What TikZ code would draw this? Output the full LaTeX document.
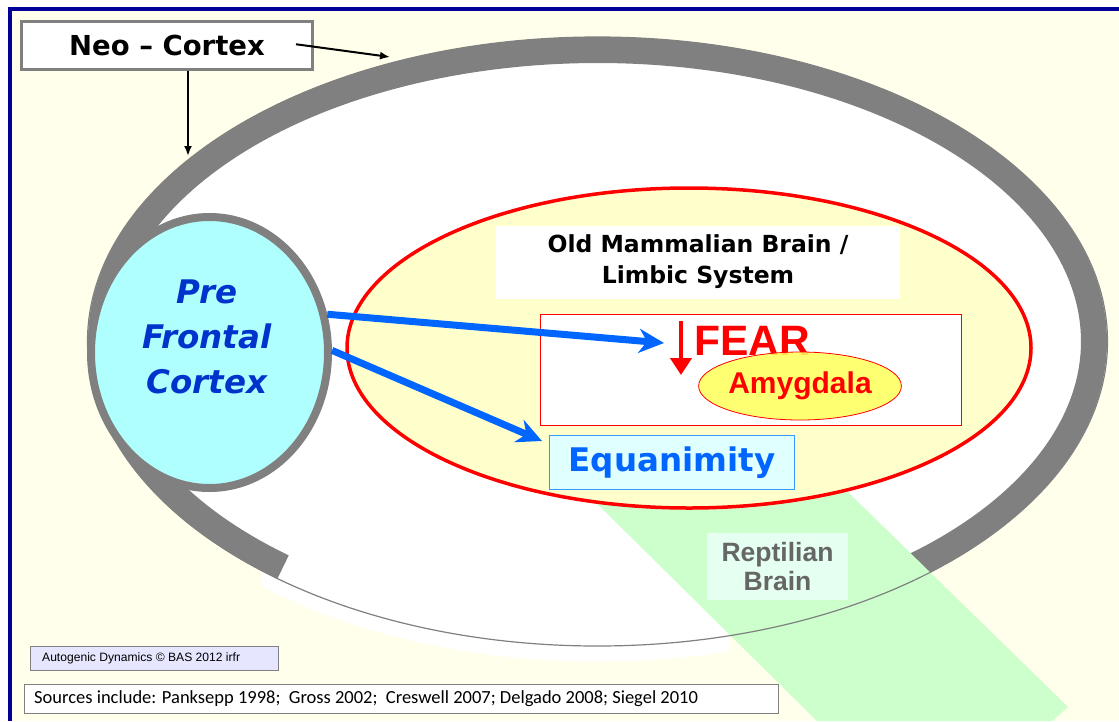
\documentclass[tikz,border=0pt]{standalone}
\usepackage{fontspec}
\setmainfont{DejaVu Sans}
\newfontfamily\verdfont{DejaVu Sans}
\newfontfamily\arialfont{Liberation Sans}
\newfontfamily\calfont{Carlito}
\usetikzlibrary{shapes.geometric,arrows.meta,positioning}
\definecolor{bgyellow}{RGB}{255,255,235}
\definecolor{frameblue}{RGB}{0,0,153}
\definecolor{ringgray}{RGB}{128,128,128}
\definecolor{limbicyellow}{RGB}{255,255,204}
\definecolor{reptgreen}{RGB}{204,255,204}
\definecolor{pfccyan}{RGB}{176,255,255}
\definecolor{pfcblue}{RGB}{0,51,204}
\definecolor{arrowblue}{RGB}{0,102,255}
\definecolor{equifill}{RGB}{224,255,255}
\definecolor{equiline}{RGB}{51,153,255}
\definecolor{amyyellow}{RGB}{255,255,90}
\definecolor{reptbox}{RGB}{229,255,240}
\definecolor{repttext}{RGB}{102,102,102}
\definecolor{footlilac}{RGB}{230,230,255}

\begin{document}
\begin{tikzpicture}[x=1pt,y=-1pt,
  ring/.style={draw=ringgray,line width=26},
  graybox/.style={draw=ringgray,line width=3,fill=white,inner sep=0pt},
  footbox/.style={draw=ringgray,line width=1,anchor=west,inner sep=0pt},
  bluearrow/.style={draw=arrowblue,line width=7,-{Stealth[length=25pt,width=24pt,inset=8pt]}},
  neoarrow/.style={draw=black,line width=2,-{Latex[length=10pt,width=8pt]}},
  plain/.style={inner sep=0pt,align=center}]
\useasboundingbox (0,0) rectangle (1119,721);
\fill[white] (0,0) rectangle (1119,721);
\fill[bgyellow] (10,9) rectangle (1119,721);
\draw[frameblue,line width=4] (10,721) -- (10,9) -- (1119,9);

% brain outline
\begin{scope}
\clip (262,540) rectangle (729,690);
\fill[white] (597.5,357) ellipse[x radius=510,y radius=304.5];
\end{scope}
\fill[white] (597.5,341.5) ellipse[x radius=510,y radius=304.5];
\draw[ring] (597.5,341.5) ++(129.3:496.5 and 291.5)
  arc[start angle=129.3,end angle=416,x radius=496.5,y radius=291.5];
\fill[reptgreen] (563,470) -- (810,455) -- (1068,707) -- (1052,721) -- (817,721) -- cycle;
\draw[ringgray,line width=1.2] (597.5,341.5) ellipse[x radius=510,y radius=304.5];

% limbic system
\node[ellipse,draw=red,line width=3.5,fill=limbicyellow,minimum width=684,minimum height=320] (limbic) at (689,348) {};
\node[plain,fill=white,minimum width=404,minimum height=73,font=\verdfont\bfseries\fontsize{23.5}{31}\selectfont] (limbtext) at (698,262) {Old Mammalian Brain /\\Limbic System};
\node[draw=red,line width=1.2,fill=white,minimum width=421,minimum height=111] (fearbox) at (751,370) {};
\node[plain,anchor=base west,text=red,font=\arialfont\bfseries\fontsize{42.5}{42.5}\selectfont] (fear) at (694,355) {FEAR};
\coordinate (feartop) at (681,321);
\coordinate (fearbot) at (681,375);
\draw[red,line width=4.5,-{Triangle[length=17pt,width=21pt]}] (feartop) -- (fearbot);
\node[ellipse,draw=red,line width=0.8,fill=amyyellow,fill opacity=0.85,text opacity=1,text=red,
  minimum width=202,minimum height=68,inner sep=0pt,font=\arialfont\bfseries\fontsize{30}{30}\selectfont] (amyg) at (800,386) {Amygdala};
\node[plain,draw=equiline,line width=1.2,fill=equifill,minimum width=245,minimum height=54,text=arrowblue,
  font=\verdfont\bfseries\fontsize{32.5}{32.5}\selectfont] (equi) at (672,462.5) {Equanimity};
\node[plain,fill=reptbox,minimum width=141,minimum height=67,text=repttext,
  font=\arialfont\bfseries\fontsize{26.5}{29}\selectfont] (rept) at (777.5,566.5) {Reptilian\\Brain};

% pre frontal cortex
\node[ellipse,draw=ringgray,line width=8,fill=pfccyan,minimum width=237,minimum height=271] (pfc) at (209.5,352.5) {};
\node[plain,text=pfcblue,font=\verdfont\bfseries\itshape\fontsize{32.5}{45}\selectfont] (pfclabel) at (207,337) {Pre\\Frontal\\Cortex};
\coordinate (fearin) at (664,343);
\coordinate (equiin) at (542,441);
\draw[bluearrow] (pfc.18) -- (fearin);
\draw[bluearrow] (pfc.1) -- (equiin);

% neo cortex
\node[graybox,minimum width=291,minimum height=47.5,font=\verdfont\bfseries\fontsize{27.5}{27.5}\selectfont] (neo) at (167,45.25) {Neo – Cortex};
\coordinate (ringtop) at (390,57);
\coordinate (ringleft) at (188,156);
\draw[neoarrow] ([xshift=-18pt,yshift=1pt]neo.east) -- (ringtop);
\draw[neoarrow] ([xshift=21pt]neo.south) -- (ringleft);

% footer
\node[footbox,fill=footlilac,minimum width=248,minimum height=24] (autog) at (30,658.5) {};
\node[plain,anchor=west,font=\arialfont\fontsize{12.1}{12.1}\selectfont] (autogtext) at ([xshift=12pt]autog.west) {Autogenic Dynamics © BAS 2012 irfr};
\node[footbox,fill=white,minimum width=754,minimum height=29] (sources) at (24,698.5) {};
\node[plain,anchor=west,font=\calfont\fontsize{18.5}{18.5}\selectfont] (sourcestext) at ([xshift=10pt]sources.west) {Sources include: Panksepp 1998;\ \ Gross 2002;\ \ Creswell 2007; Delgado 2008; Siegel 2010};
\end{tikzpicture}
\end{document}
